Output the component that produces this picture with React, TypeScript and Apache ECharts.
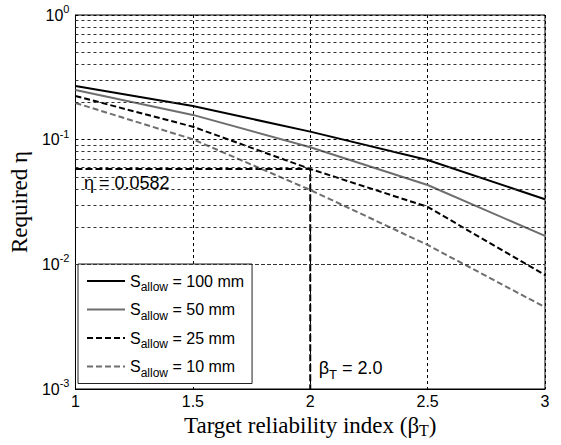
import React, { useEffect, useRef } from 'react';
import * as echarts from 'echarts';

const betaT = [1, 1.5, 2, 2.5, 3];
const eta100 = [0.27, 0.186, 0.116, 0.0687, 0.0333];
const eta50 = [0.25, 0.158, 0.0869, 0.0433, 0.0169];
const eta25 = [0.224, 0.127, 0.0582, 0.0289, 0.0082];
const eta10 = [0.197, 0.1007, 0.0395, 0.0143, 0.00453];
const sAllow = ['100', '50', '25', '10'];
const minorGrid = [
  0.002, 0.003, 0.004, 0.005, 0.006, 0.007, 0.008, 0.009,
  0.02, 0.03, 0.04, 0.05, 0.06, 0.07, 0.08, 0.09,
  0.2, 0.3, 0.4, 0.5, 0.6, 0.7, 0.8, 0.9,
];
const targetBeta = 2.0;
const requiredEta = 0.0582;
const xMin = 1;
const xMax = 3;
const yMin = 0.001;
const yMax = 1;

const SANS = 'Liberation Sans, Arial, sans-serif';
const SERIF = 'Liberation Serif, Times New Roman, serif';

export default function App() {
  const ref = useRef<HTMLDivElement>(null);
  useEffect(() => {
    if (!ref.current) return;
    const chart = echarts.init(ref.current, null, { renderer: 'svg' });
    const pairs = (ys: number[]) => betaT.map((x, i) => [x, ys[i]]);
    const styles = [
      { color: '#000', type: 'solid', width: 2 },
      { color: '#6e6e6e', type: 'solid', width: 2 },
      { color: '#000', type: [6, 3], width: 2 },
      { color: '#6e6e6e', type: [6, 3], width: 2 },
    ];
    const datasets = [eta100, eta50, eta25, eta10];
    chart.setOption({
      animation: false,
      backgroundColor: '#fff',
      grid: {
        left: 72,
        top: 15,
        right: 16,
        bottom: 56,
        show: true,
        borderColor: '#000',
        borderWidth: 1,
        backgroundColor: 'transparent',
      },
      xAxis: {
        type: 'value',
        min: xMin,
        max: xMax,
        interval: 0.5,
        name: 'Target reliability index (β{sub|T})',
        nameLocation: 'middle',
        nameGap: 19,
        nameTextStyle: {
          fontFamily: SERIF,
          fontSize: 23,
          color: '#000',
          rich: {
            sub: { fontFamily: SERIF, fontSize: 16, color: '#000', padding: [10, 0, 0, 0] },
          },
        },
        axisLine: { show: true, lineStyle: { color: '#000', width: 1 } },
        axisTick: { show: false },
        axisLabel: { fontFamily: SANS, fontSize: 16, color: '#000', margin: 4 },
        splitLine: { show: true, lineStyle: { color: '#000', type: [3, 3], width: 1 } },
      },
      yAxis: {
        type: 'log',
        logBase: 10,
        min: yMin,
        max: yMax,
        name: 'Required η',
        nameLocation: 'middle',
        nameGap: 37,
        nameTextStyle: { fontFamily: SERIF, fontSize: 23, color: '#000' },
        axisLine: { show: true, lineStyle: { color: '#000', width: 1 } },
        axisTick: { show: false },
        axisLabel: {
          margin: 6,
          formatter: (v: number) => `{b|10}{sup|${Math.round(Math.log10(v))}}`,
          rich: {
            b: { fontFamily: SANS, fontSize: 16, color: '#000' },
            sup: { fontFamily: SANS, fontSize: 11, color: '#000', padding: [0, 0, 12, 0] },
          },
        },
        splitLine: { show: true, lineStyle: { color: '#000', type: [3, 3], width: 1 } },
      },
      legend: {
        orient: 'vertical',
        left: 78,
        top: 264,
        data: sAllow,
        backgroundColor: '#fff',
        borderColor: '#222',
        borderWidth: 1,
        padding: [9, 8, 5, 8],
        itemWidth: 38,
        itemHeight: 14,
        itemGap: 8.5,
        itemStyle: { color: 'rgba(0,0,0,0)', borderWidth: 0, opacity: 0 },
        formatter: (name: string) => `{s|S}{sub|allow}{s| = ${name} mm}`,
        textStyle: {
          rich: {
            s: { fontFamily: SANS, fontSize: 16, color: '#000' },
            sub: { fontFamily: SANS, fontSize: 12, color: '#000', padding: [12, 0, 0, 0] },
          },
        },
      },
      series: [
        {
          name: 'annot',
          type: 'line',
          data: [[xMin, requiredEta], [targetBeta, requiredEta], [targetBeta, yMin]],
          showSymbol: false,
          symbol: 'none',
          silent: true,
          lineStyle: { color: '#000', type: [7, 3], width: 2 },
          markLine: {
            silent: true,
            symbol: ['none', 'none'],
            label: { show: false },
            lineStyle: { color: '#333', type: [3, 3], width: 1 },
            data: minorGrid.map((v) => ({ yAxis: v })),
          },
          z: 1,
        },
        ...datasets.map((ys, i) => ({
          name: sAllow[i],
          type: 'line',
          data: pairs(ys),
          showSymbol: false,
          symbol: 'none',
          lineStyle: styles[i],
          itemStyle: { color: styles[i].color },
          z: 3,
        })),
        {
          name: 'labels',
          type: 'scatter',
          symbolSize: 1,
          itemStyle: { color: 'rgba(0,0,0,0)', opacity: 1 },
          silent: true,
          data: [
            {
              value: [xMin, requiredEta],
              label: {
                show: true,
                position: 'right',
                distance: 0,
                offset: [8, 14],
                formatter: 'η = 0.0582',
                fontFamily: SANS,
                fontSize: 18,
                color: '#000',
              },
            },
            {
              value: [targetBeta, yMin],
              label: {
                show: true,
                position: 'right',
                distance: 0,
                offset: [8, -21],
                formatter: '{b|β}{sub|T}{b| = 2.0}',
                rich: {
                  b: { fontFamily: SANS, fontSize: 18, color: '#000' },
                  sub: { fontFamily: SANS, fontSize: 13, color: '#000', padding: [12, 0, 0, 0] },
                },
              },
            },
          ],
          z: 4,
        },
      ],
    });
    return () => chart.dispose();
  }, []);
  return (
    <div
      ref={ref}
      style={{ position: 'fixed', left: 0, top: 0, width: 561, height: 445, background: '#fff' }}
    />
  );
}
